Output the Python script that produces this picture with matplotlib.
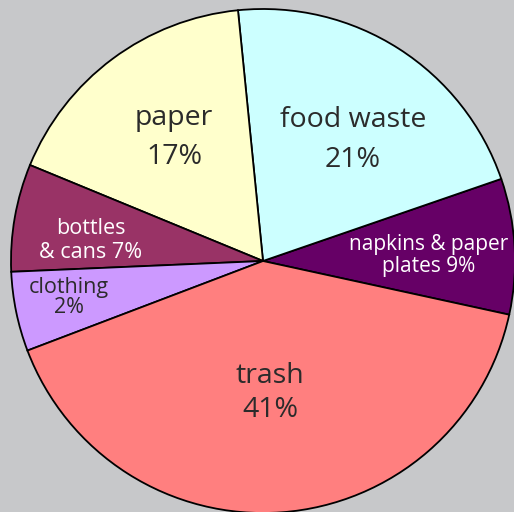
import matplotlib.pyplot as plt

# wedge sizes as drawn (counterclockwise from napkins)
categories = ["napkins", "food waste", "paper", "bottles", "clothing", "trash"]
sizes = [8.7, 21.3, 17.2, 6.9, 5.1, 40.8]
labels = ["napkins & paper\nplates 9%", "food waste\n21%", "paper\n17%",
          "bottles\n& cans 7%", "clothing\n2%", "trash\n41%"]
colors = ["#660066", "#CCFFFF", "#FFFFCC", "#993366", "#CC99FF", "#FF7F7F"]

# label placement in pixels (x centre, baselines from top), font size, colour
label_x = [429, 353, 174, 91, 69, 270]
label_base = [(250, 272), (127, 167), (125, 164), (234, 258), (293, 313), (383, 417)]
label_size = [15, 20.5, 20.5, 15.5, 15.5, 20.5]
label_color = ["white", "#2b2b2b", "#2b2b2b", "white", "#2b2b2b", "#2b2b2b"]

W, H = 514, 512
bg = "#C7C8CA"

plt.rcParams['font.family'] = ['Open Sans', 'DejaVu Sans']
fig = plt.figure(figsize=(W / 100, H / 100), dpi=100, facecolor=bg)
ax = fig.add_axes([0, 0, 1, 1])
ax.set_facecolor(bg)

ax.pie(sizes, colors=colors, startangle=-12.3, counterclock=True,
       center=(263, H - 261), radius=252,
       wedgeprops=dict(edgecolor="black", linewidth=1.3))

for lab, x, bases, fs, c in zip(labels, label_x, label_base, label_size, label_color):
    for line, b in zip(lab.split("\n"), bases):
        ax.text(x, H - b, line, ha="center", va="baseline", fontsize=fs, color=c)

ax.set_xlim(0, W)
ax.set_ylim(0, H)
ax.set_aspect("equal")
ax.axis("off")

fig.savefig("out.png", dpi=100, facecolor=bg)
